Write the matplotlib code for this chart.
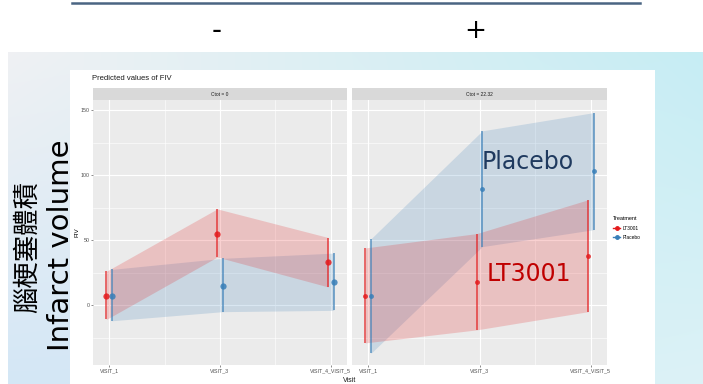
import numpy as np
import matplotlib
matplotlib.use("Agg")
import matplotlib.pyplot as plt
from matplotlib.lines import Line2D
from matplotlib.patches import Rectangle

W, H = 703, 384

# predicted FIV per visit, with 95% CI, for each Ctot facet
visits = ["VISIT_1", "VISIT_3", "VISIT_4_VISIT_5"]
facets = ["Ctot = 0", "Ctot = 22.32"]

lt_fit = [[7, 55, 33], [7, 18, 38]]
lt_low = [[-11, 37, 14], [-29, -19, -5]]
lt_high = [[26, 74, 52], [44, 55, 81]]

pl_fit = [[7, 15, 18], [7, 89, 103]]
pl_low = [[-12, -5, -4], [-37, 45, 58]]
pl_high = [[27.5, 36, 40], [51, 134, 148]]

RED = "#E41A1C"
BLUE = "#377EB8"
GG = "Liberation Sans"


def rect(x0, y0, x1, y1):
    # pixel box (top-left origin) -> figure fraction
    return [x0 / W, 1 - y1 / H, (x1 - x0) / W, (y1 - y0) / H]


def pixel_axes(fig):
    ax = fig.add_axes([0, 0, 1, 1])
    ax.set_xlim(0, W)
    ax.set_ylim(H, 0)
    ax.axis("off")
    ax.patch.set_alpha(0)
    return ax


fig = plt.figure(figsize=(W / 100, H / 100), dpi=100)

# slide background
bg = pixel_axes(fig)

xs = np.linspace(0, 1, W)[None, :, None]
ys = np.linspace(0, 1, H - 52)[:, None, None]
left_c = np.array([240, 241, 243]) / 255
right_c = np.array([198, 237, 244]) / 255
img = left_c + (right_c - left_c) * xs
img = np.repeat(img, H - 52, axis=0)
light = np.array([226, 243, 247]) / 255
img = img + (light - img) * (ys * xs * 0.8)
strip_c = np.array([212, 231, 246]) / 255
mask = (np.arange(W) < 70)[None, :, None]
img = np.where(mask, img + (strip_c - img) * ys, img)
img[:, :8, :] = 1.0
bg.imshow(img, extent=(0, W, H, 52), aspect="auto", zorder=0)

bg.plot([72, 640], [3, 3], color="#4A6583", lw=1.8, zorder=1)
bg.text(217, 31, "-", fontsize=20, ha="center", va="center",
        family="DejaVu Sans")
bg.text(475, 31, "+", fontsize=19, ha="center", va="center",
        family="DejaVu Sans")

# white plot area
bg.add_patch(Rectangle((70, 70), 585, 320, facecolor="white",
                       edgecolor="none", zorder=2))
bg.text(92, 78, "Predicted values of FIV", fontsize=5.5, family=GG,
        ha="left", va="center", color="#1A1A1A", zorder=3)

bg.text(27, 247, "腦梗塞體積", rotation=90, fontsize=19, ha="center",
        va="center", family=["Noto Sans CJK TC", "DejaVu Sans"], zorder=3)
bg.text(61, 245, "Infarct volume", rotation=90, fontsize=21, ha="center",
        va="center", family="DejaVu Sans", zorder=3)

panels = [(93, 347), (352, 607)]
dodge = 0.025
x = np.arange(1, 4)

for i, (x0, x1) in enumerate(panels):
    strip = fig.add_axes(rect(x0, 88, x1, 100))
    strip.set_facecolor("#D9D9D9")
    strip.set_xticks([])
    strip.set_yticks([])
    for s in strip.spines.values():
        s.set_visible(False)
    strip.text(0.5, 0.5, facets[i], transform=strip.transAxes, fontsize=3.5,
               ha="center", va="center", color="#1A1A1A", family=GG)

    ax = fig.add_axes(rect(x0, 100, x1, 365))
    ax.set_facecolor("#EBEBEB")
    ax.set_xlim(0.855, 3.145)
    ax.set_ylim(-46, 157.7)
    ax.set_xticks(x)
    ax.set_xticks([1.5, 2.5], minor=True)
    ax.set_yticks([0, 50, 100, 150])
    ax.set_yticks([-25, 25, 75, 125], minor=True)
    ax.grid(which="major", color="white", lw=0.8)
    ax.grid(which="minor", color="white", lw=0.4)
    ax.set_axisbelow(True)
    for s in ax.spines.values():
        s.set_visible(False)
    ax.tick_params(which="major", length=1.5, width=0.4, color="#333333",
                   labelsize=3.8, labelcolor="#4D4D4D", pad=1)
    ax.tick_params(which="minor", length=0)
    ax.set_xticklabels(visits, family=GG)
    if i == 0:
        ax.set_yticklabels(["0", "50", "100", "150"], family=GG)
        ax.set_ylabel("FIV", fontsize=4.5, family=GG, labelpad=1)
    else:
        ax.set_yticklabels([])
        ax.tick_params(axis="y", length=0)

    xb = x + dodge
    xr = x - dodge
    ax.fill_between(xb, pl_low[i], pl_high[i], color=BLUE, alpha=0.19,
                    lw=0, zorder=2)
    ax.fill_between(xr, lt_low[i], lt_high[i], color=RED, alpha=0.2,
                    lw=0, zorder=3)
    ax.vlines(xb, pl_low[i], pl_high[i], color=BLUE, lw=1.1, alpha=0.8,
              zorder=4)
    ax.vlines(xr, lt_low[i], lt_high[i], color=RED, lw=1.1, alpha=0.8,
              zorder=4)
    ms = 4.5 if i == 0 else 3.5
    ax.plot(xb, pl_fit[i], "o", color=BLUE, ms=ms, mec="none", alpha=0.85,
            zorder=5)
    ax.plot(xr, lt_fit[i], "o", color=RED, ms=ms, mec="none", alpha=0.85,
            zorder=5)

# group labels written over the right facet
top = pixel_axes(fig)
top.text(482, 162, "Placebo", fontsize=17, color="#1F3A5F",
         family="DejaVu Sans", ha="left", va="center")
top.text(487, 274, "LT3001", fontsize=17, color="#C00000",
         family="DejaVu Sans", ha="left", va="center")
top.text(350, 381, "Visit", fontsize=5, family=GG, ha="center",
         va="center", color="#1A1A1A")

handles = [Line2D([], [], color=RED, marker="o", ms=2.5, lw=1),
           Line2D([], [], color=BLUE, marker="o", ms=2.5, lw=1)]
leg = fig.legend(handles, ["LT3001", "Placebo"], title="Treatment",
                 loc="upper left", bbox_to_anchor=(609 / W, 1 - 212 / H),
                 frameon=False, prop={"family": GG, "size": 3.5},
                 handlelength=1.4, handletextpad=0.6, labelspacing=0.9)
leg.get_title().set_fontsize(4)
leg.get_title().set_family(GG)
leg._legend_box.align = "left"

fig.savefig("out.png", dpi=100)
